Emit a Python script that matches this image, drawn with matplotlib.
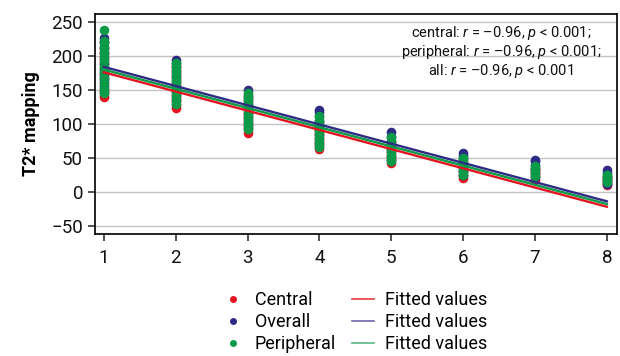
import numpy as np
import matplotlib
matplotlib.use("Agg")
import matplotlib.pyplot as plt
from matplotlib.lines import Line2D

plt.rcParams['font.family'] = ['Roboto', 'DejaVu Sans']
plt.rcParams['mathtext.fontset'] = 'custom'
plt.rcParams['mathtext.rm'] = 'Roboto'
plt.rcParams['mathtext.it'] = 'Roboto:italic'

# ------------------------------------------------------------
# Data
# ------------------------------------------------------------
x_levels = [1, 2, 3, 4, 5, 6, 7, 8]

central = [
    [140, 146, 152, 160, 168, 175, 182, 190, 198, 205, 212, 220],
    [124, 128, 134, 140, 147, 154, 160, 167, 174, 180, 185],
    [87, 92, 98, 104, 110, 116, 122, 128, 134, 140],
    [63, 68, 73, 79, 85, 91, 97, 103],
    [43, 48, 53, 58, 63, 68, 73],
    [20, 25, 30, 35, 40, 45],
    [18, 22, 26, 30, 34],
    [10, 13, 16, 19, 22],
]
overall = [
    [148, 156, 164, 172, 180, 188, 196, 204, 212, 220, 226],
    [135, 142, 149, 156, 163, 170, 177, 184, 190, 194],
    [95, 101, 108, 115, 122, 129, 136, 143, 150],
    [70, 76, 83, 90, 97, 104, 111, 117, 120],
    [47, 53, 60, 67, 74, 81, 88],
    [24, 30, 36, 42, 48, 53, 57],
    [22, 28, 34, 40, 45, 47],
    [12, 17, 22, 27, 32],
]
peripheral = [
    [145, 152, 160, 168, 176, 184, 192, 200, 208, 215, 222, 238],
    [130, 136, 143, 150, 157, 164, 171, 178, 184, 190],
    [92, 98, 105, 112, 119, 126, 133, 140, 145],
    [66, 72, 79, 86, 93, 100, 106, 112],
    [45, 51, 57, 63, 69, 75, 80],
    [24, 29, 34, 39, 44, 50],
    [23, 27, 31, 35, 38],
    [14, 17, 20, 23, 25],
]

fit_x = [1, 8]
fit_central = [176, -22]
fit_overall = [184, -14]
fit_peripheral = [180, -18]

annotation = [
    "central: $r$ = \u20130.96, $p$ < 0.001;",
    "peripheral: $r$ = \u20130.96, $p$ < 0.001;",
    "all: $r$ = \u20130.96, $p$ < 0.001",
]

RED = "#e3141f"
BLUE = "#2e2b85"
GREEN = "#0a9a48"

# ------------------------------------------------------------
# Plot
# ------------------------------------------------------------
fig = plt.figure(figsize=(6.2, 3.56), dpi=100)
ax = fig.add_axes([0.153, 0.343, 0.842, 0.618])

for series, col in [(central, RED), (overall, BLUE), (peripheral, GREEN)]:
    for xv, vals in zip(x_levels, series):
        ax.scatter([xv] * len(vals), vals, s=48, color=col, linewidths=0, zorder=3)

ax.plot(fit_x, fit_central, color=RED, lw=1.7, zorder=4)
ax.plot(fit_x, fit_peripheral, color=GREEN, lw=1.7, zorder=4)
ax.plot(fit_x, fit_overall, color=BLUE, lw=1.7, zorder=4)

ax.set_xlim(0.875, 8.14)
ax.set_ylim(-62, 262)
ax.set_xticks(x_levels)
ax.set_yticks([-50, 0, 50, 100, 150, 200, 250])
ax.yaxis.grid(True, color="#c4c4c4", lw=1.0)
ax.set_axisbelow(True)
ax.tick_params(labelsize=13.5, length=5, width=1.1, color="#222222", labelcolor="#111111")
ax.tick_params(axis="x", pad=6)
for s in ax.spines.values():
    s.set_linewidth(1.3)
    s.set_color("#111111")

ax.set_ylabel("T2* mapping", fontsize=13, fontweight="bold", labelpad=8)

for i, line in enumerate(annotation):
    ax.text(0.778, 0.914 - i * 0.086, line, transform=ax.transAxes,
            ha="center", va="center", fontsize=10.5, color="#111111")

handles = [
    Line2D([], [], ls="", marker="o", ms=4, color=RED),
    Line2D([], [], ls="", marker="o", ms=4, color=BLUE),
    Line2D([], [], ls="", marker="o", ms=4, color=GREEN),
    Line2D([], [], color="#e63a3f", lw=1.2),
    Line2D([], [], color="#6a67a8", lw=1.2),
    Line2D([], [], color="#5cb883", lw=1.2),
]
labels = ["Central", "Overall", "Peripheral",
          "Fitted values", "Fitted values", "Fitted values"]
fig.legend(handles, labels, ncol=2, loc="upper left",
           bbox_to_anchor=(0.347, 0.203), frameon=False, fontsize=13,
           handlelength=1.2, handletextpad=0.6, columnspacing=0.9,
           labelspacing=0.22, borderaxespad=0)

fig.savefig("out.png", dpi=100)
